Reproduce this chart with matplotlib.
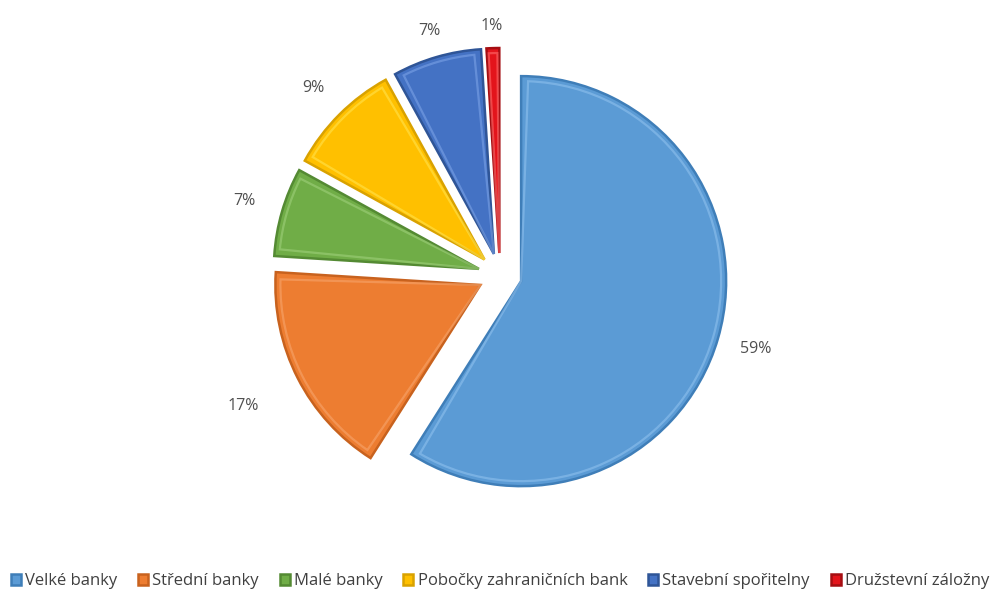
import numpy as np
import matplotlib.pyplot as plt
from matplotlib.patches import Wedge

categories = ["Velké banky", "Střední banky", "Malé banky", "Pobočky zahraničních bank",
              "Stavební spořitelny", "Družstevní záložny"]
shares = [59, 17, 7, 9, 7, 1]
colours = ["#5B9BD5", "#ED7D31", "#70AD47", "#FFC000", "#4472C4", "#E3141B"]
edge_colours = ["#3F7EB8", "#C8621E", "#548A33", "#D9A200", "#2F5597", "#A50E12"]
light_colours = ["#8EC0EE", "#F7A56C", "#9ED07A", "#FFE34D", "#7BA2E6", "#FF6A6A"]
label_dist = [1.19, 1.30, 1.19, 1.18, 1.13, 1.11]

plt.rcParams['font.family'] = ['Open Sans', 'DejaVu Sans']

fig = plt.figure(figsize=(10, 5.94), dpi=100)
ax = fig.add_axes([0, 0, 1, 1])

wedges, texts, autotexts = ax.pie(
    shares, colors=colours, startangle=90, counterclock=False,
    center=(500, 319), radius=205, explode=[22] * len(shares),
    autopct=lambda p: f"{p:.0f}%", pctdistance=1.19,
    wedgeprops=dict(linewidth=1.8),
    textprops=dict(fontsize=11.5, color="#505050"),
)

# push each percentage label out along its slice's mid angle
for w, t, d in zip(wedges, autotexts, label_dist):
    mid = np.deg2rad((w.theta1 + w.theta2) / 2)
    cx, cy = w.center
    t.set_position((cx + d * w.r * np.cos(mid), cy + d * w.r * np.sin(mid)))

# bevel look: dark outline plus a lighter inset rim
for w, ec, lc in zip(wedges, edge_colours, light_colours):
    w.set_edgecolor(ec)
    span = w.theta2 - w.theta1
    inset = min(2.0, span * 0.15)
    rim = Wedge(w.center, w.r - 5, w.theta1 + inset, w.theta2 - inset,
                facecolor="none", edgecolor=lc, linewidth=1.6,
                alpha=0.6, zorder=w.get_zorder() + 0.1)
    ax.add_patch(rim)

ax.set_xlim(0, 1000)
ax.set_ylim(0, 594)
ax.set_aspect("equal")
ax.axis("off")

ax.legend(wedges, categories, loc="lower center", bbox_to_anchor=(0.5, -0.017),
          ncol=6, frameon=False, fontsize=12, handlelength=0.6, handleheight=0.6,
          handletextpad=0.25, columnspacing=1.25, labelcolor="#404040")

fig.savefig("out.png", dpi=100, facecolor="white")
